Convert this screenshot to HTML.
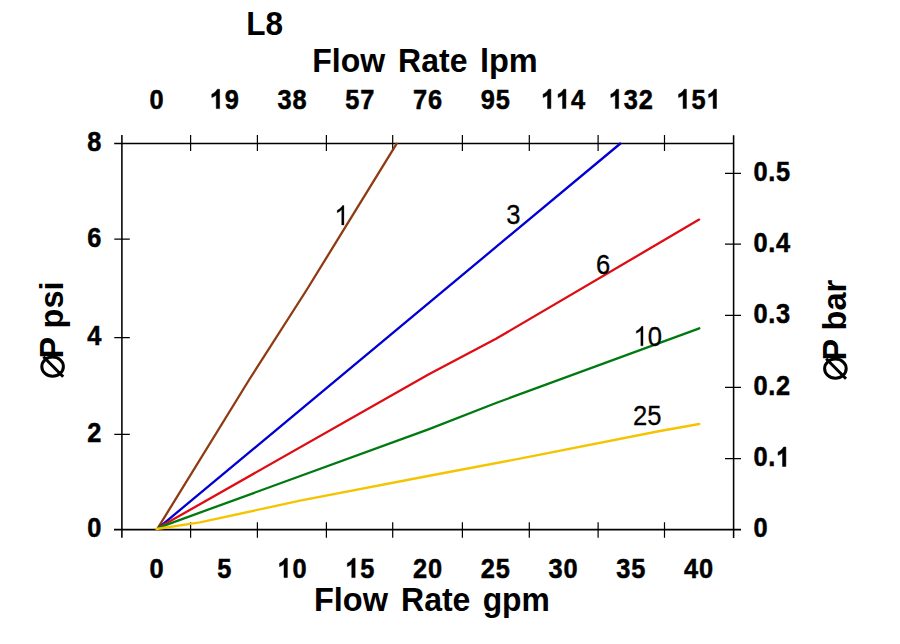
<!DOCTYPE html>
<html><head><meta charset="utf-8"><style>
html,body{margin:0;padding:0;background:#fff;width:900px;height:644px;overflow:hidden}
svg{display:block}
</style></head><body>
<svg width="900" height="644" viewBox="0 0 900 644">
<rect width="900" height="644" fill="#fff"/>
<g stroke="#000" fill="none" stroke-width="1.55">
<path d="M121.9 135V537.8M733.6 135.3V538M114.2 143.5H733.6M114 529.6H741"/>
</g>
<g stroke="#000" fill="none" stroke-width="1.2">
<path d="M190.6 135V151M190.6 522.2V537.8M257.4 135V151M257.4 522.2V537.8M326.4 135V151M326.4 522.2V537.8M392.7 135V151M392.7 522.2V537.8M462.4 135V151M462.4 522.2V537.8M529.3 135V151M529.3 522.2V537.8M598.1 135V151M598.1 522.2V537.8M664.5 135V151M664.5 522.2V537.8M114.3 239.1H129.8M114.3 337.7H129.8M114.3 434.3H129.8M725 173.3H741M725 244.2H741M725 315.3H741M725 387.4H741M725 458.6H741" vector-effect="non-scaling-stroke"/>
</g>
<polyline fill="none" stroke="#8f3a12" stroke-width="2.3" stroke-linejoin="round" stroke-linecap="round" points="158.1,527.6 249.0,380.0 306.6,290.0 396.7,143.7"/>
<polyline fill="none" stroke="#0000d4" stroke-width="2.3" stroke-linejoin="round" stroke-linecap="round" points="158.8,527.6 620.4,143.5"/>
<polyline fill="none" stroke="#dd0d14" stroke-width="2.3" stroke-linejoin="round" stroke-linecap="round" points="158.8,527.6 428.4,374.5 496.0,338.8 699.1,219.6"/>
<polyline fill="none" stroke="#007a10" stroke-width="2.3" stroke-linejoin="round" stroke-linecap="round" points="158.8,527.6 428.4,429.3 496.0,403.0 699.3,328.3"/>
<polyline fill="none" stroke="#f5c400" stroke-width="2.3" stroke-linejoin="round" stroke-linecap="round" points="156.5,529.0 200.0,522.3 300.0,500.7 428.0,476.0 530.0,456.7 660.0,431.0 699.3,424.0"/>
<g font-family="Liberation Sans" font-weight="bold" font-size="27.0" fill="#000" stroke="#000" stroke-width="0.5">
<text transform="translate(156.50 108.60) scale(0.940 1)" text-anchor="middle">0</text>
<path transform="translate(216.75 108.60) scale(0.01239 -0.01318) translate(-569.5 0)" d="M800 0L530 0L530 1040Q380 900 170 840L170 1095Q330 1150 450 1260Q570 1370 615 1466L800 1466Z" vector-effect="non-scaling-stroke"/>
<text transform="translate(231.77 108.60) scale(0.940 1)" text-anchor="middle">9</text>
<text transform="translate(284.51 108.60) scale(0.940 1)" text-anchor="middle">3</text>
<text transform="translate(299.53 108.60) scale(0.940 1)" text-anchor="middle">8</text>
<text transform="translate(352.27 108.60) scale(0.940 1)" text-anchor="middle">5</text>
<text transform="translate(367.29 108.60) scale(0.940 1)" text-anchor="middle">7</text>
<text transform="translate(420.03 108.60) scale(0.940 1)" text-anchor="middle">7</text>
<text transform="translate(435.05 108.60) scale(0.940 1)" text-anchor="middle">6</text>
<text transform="translate(487.79 108.60) scale(0.940 1)" text-anchor="middle">9</text>
<text transform="translate(502.81 108.60) scale(0.940 1)" text-anchor="middle">5</text>
<path transform="translate(548.04 108.60) scale(0.01239 -0.01318) translate(-569.5 0)" d="M800 0L530 0L530 1040Q380 900 170 840L170 1095Q330 1150 450 1260Q570 1370 615 1466L800 1466Z" vector-effect="non-scaling-stroke"/>
<path transform="translate(563.06 108.60) scale(0.01239 -0.01318) translate(-569.5 0)" d="M800 0L530 0L530 1040Q380 900 170 840L170 1095Q330 1150 450 1260Q570 1370 615 1466L800 1466Z" vector-effect="non-scaling-stroke"/>
<text transform="translate(578.08 108.60) scale(0.940 1)" text-anchor="middle">4</text>
<path transform="translate(615.80 108.60) scale(0.01239 -0.01318) translate(-569.5 0)" d="M800 0L530 0L530 1040Q380 900 170 840L170 1095Q330 1150 450 1260Q570 1370 615 1466L800 1466Z" vector-effect="non-scaling-stroke"/>
<text transform="translate(630.82 108.60) scale(0.940 1)" text-anchor="middle">3</text>
<text transform="translate(645.84 108.60) scale(0.940 1)" text-anchor="middle">2</text>
<path transform="translate(683.56 108.60) scale(0.01239 -0.01318) translate(-569.5 0)" d="M800 0L530 0L530 1040Q380 900 170 840L170 1095Q330 1150 450 1260Q570 1370 615 1466L800 1466Z" vector-effect="non-scaling-stroke"/>
<text transform="translate(698.58 108.60) scale(0.940 1)" text-anchor="middle">5</text>
<path transform="translate(713.60 108.60) scale(0.01239 -0.01318) translate(-569.5 0)" d="M800 0L530 0L530 1040Q380 900 170 840L170 1095Q330 1150 450 1260Q570 1370 615 1466L800 1466Z" vector-effect="non-scaling-stroke"/>
<text transform="translate(156.50 577.60) scale(0.940 1)" text-anchor="middle">0</text>
<text transform="translate(224.26 577.60) scale(0.940 1)" text-anchor="middle">5</text>
<path transform="translate(284.51 577.60) scale(0.01239 -0.01318) translate(-569.5 0)" d="M800 0L530 0L530 1040Q380 900 170 840L170 1095Q330 1150 450 1260Q570 1370 615 1466L800 1466Z" vector-effect="non-scaling-stroke"/>
<text transform="translate(299.53 577.60) scale(0.940 1)" text-anchor="middle">0</text>
<path transform="translate(352.27 577.60) scale(0.01239 -0.01318) translate(-569.5 0)" d="M800 0L530 0L530 1040Q380 900 170 840L170 1095Q330 1150 450 1260Q570 1370 615 1466L800 1466Z" vector-effect="non-scaling-stroke"/>
<text transform="translate(367.29 577.60) scale(0.940 1)" text-anchor="middle">5</text>
<text transform="translate(420.03 577.60) scale(0.940 1)" text-anchor="middle">2</text>
<text transform="translate(435.05 577.60) scale(0.940 1)" text-anchor="middle">0</text>
<text transform="translate(487.79 577.60) scale(0.940 1)" text-anchor="middle">2</text>
<text transform="translate(502.81 577.60) scale(0.940 1)" text-anchor="middle">5</text>
<text transform="translate(555.55 577.60) scale(0.940 1)" text-anchor="middle">3</text>
<text transform="translate(570.57 577.60) scale(0.940 1)" text-anchor="middle">0</text>
<text transform="translate(623.31 577.60) scale(0.940 1)" text-anchor="middle">3</text>
<text transform="translate(638.33 577.60) scale(0.940 1)" text-anchor="middle">5</text>
<text transform="translate(691.07 577.60) scale(0.940 1)" text-anchor="middle">4</text>
<text transform="translate(706.09 577.60) scale(0.940 1)" text-anchor="middle">0</text>
<text transform="translate(94.39 151.10) scale(0.940 1)" text-anchor="middle">8</text>
<text transform="translate(94.39 246.70) scale(0.940 1)" text-anchor="middle">6</text>
<text transform="translate(94.39 345.30) scale(0.940 1)" text-anchor="middle">4</text>
<text transform="translate(94.39 441.90) scale(0.940 1)" text-anchor="middle">2</text>
<text transform="translate(94.39 537.20) scale(0.940 1)" text-anchor="middle">0</text>
<text transform="translate(760.51 181.10) scale(0.940 1)" text-anchor="middle">0</text>
<text transform="translate(771.77 181.10) scale(0.940 1)" text-anchor="middle">.</text>
<text transform="translate(783.03 181.10) scale(0.940 1)" text-anchor="middle">5</text>
<text transform="translate(760.51 252.00) scale(0.940 1)" text-anchor="middle">0</text>
<text transform="translate(771.77 252.00) scale(0.940 1)" text-anchor="middle">.</text>
<text transform="translate(783.03 252.00) scale(0.940 1)" text-anchor="middle">4</text>
<text transform="translate(760.51 323.10) scale(0.940 1)" text-anchor="middle">0</text>
<text transform="translate(771.77 323.10) scale(0.940 1)" text-anchor="middle">.</text>
<text transform="translate(783.03 323.10) scale(0.940 1)" text-anchor="middle">3</text>
<text transform="translate(760.51 395.20) scale(0.940 1)" text-anchor="middle">0</text>
<text transform="translate(771.77 395.20) scale(0.940 1)" text-anchor="middle">.</text>
<text transform="translate(783.03 395.20) scale(0.940 1)" text-anchor="middle">2</text>
<text transform="translate(760.51 466.40) scale(0.940 1)" text-anchor="middle">0</text>
<text transform="translate(771.77 466.40) scale(0.940 1)" text-anchor="middle">.</text>
<path transform="translate(783.03 466.40) scale(0.01239 -0.01318) translate(-569.5 0)" d="M800 0L530 0L530 1040Q380 900 170 840L170 1095Q330 1150 450 1260Q570 1370 615 1466L800 1466Z" vector-effect="non-scaling-stroke"/>
<text transform="translate(760.51 537.30) scale(0.940 1)" text-anchor="middle">0</text>
</g>
<g font-family="Liberation Sans" font-weight="bold" font-size="32.5" fill="#000">
<text transform="translate(246.24 34.70) scale(0.970 1.030)">L8</text>
<text transform="translate(312.21 71.90) scale(0.985 1.030)">Flow</text>
<text transform="translate(398.11 71.90) scale(0.985 1.030)">Rate</text>
<text transform="translate(479.93 71.90) scale(1.000 1.030)">lpm</text>
<text transform="translate(313.98 610.80) scale(1.000 1.030)">Flow</text>
<text transform="translate(401.01 610.80) scale(0.985 1.030)">Rate</text>
<text transform="translate(482.64 610.80) scale(0.980 1.030)">gpm</text>
</g>
<g font-family="Liberation Sans" font-weight="bold" font-size="33" fill="#000">
<text transform="translate(62.8 358.55) rotate(-90) scale(0.985 1.02)">P psi</text>
<text transform="translate(845.6 360.55) rotate(-90) scale(0.985 1.02)">P bar</text>
</g>
<g transform="translate(0.0 0.0)"><ellipse cx="52.6" cy="366.6" rx="10.8" ry="9.55" fill="none" stroke="#000" stroke-width="3"/><path d="M43.4 356.8L63.2 376.8" stroke="#000" stroke-width="3"/></g>
<g transform="translate(782.8 2.0)"><ellipse cx="52.6" cy="366.6" rx="10.8" ry="9.55" fill="none" stroke="#000" stroke-width="3"/><path d="M43.4 356.8L63.2 376.8" stroke="#000" stroke-width="3"/></g>
<g font-family="Liberation Sans" font-size="27.2" fill="#000" stroke="#000" stroke-width="0.3">
<g transform="translate(334.42 225.00) scale(0.940 1)">
<path transform="translate(0.000 0) scale(0.01328 -0.01328)" d="M763 0L583 0L583 1147Q518 1085 413 1023Q307 961 223 930L223 1104Q374 1175 487 1276Q600 1377 647 1466L763 1466Z" vector-effect="non-scaling-stroke"/>
</g>
<g transform="translate(506.23 224.40) scale(0.940 1)">
<text x="0.000" y="0">3</text>
</g>
<g transform="translate(595.90 273.80) scale(0.940 1)">
<text x="0.000" y="0">6</text>
</g>
<g transform="translate(633.52 345.70) scale(0.940 1)">
<path transform="translate(0.000 0) scale(0.01328 -0.01328)" d="M763 0L583 0L583 1147Q518 1085 413 1023Q307 961 223 930L223 1104Q374 1175 487 1276Q600 1377 647 1466L763 1466Z" vector-effect="non-scaling-stroke"/>
<text x="15.127" y="0">0</text>
</g>
<g transform="translate(633.11 424.90) scale(0.940 1)">
<text x="0.000" y="0">2</text>
<text x="15.127" y="0">5</text>
</g>
</g>
</svg>
</body></html>
